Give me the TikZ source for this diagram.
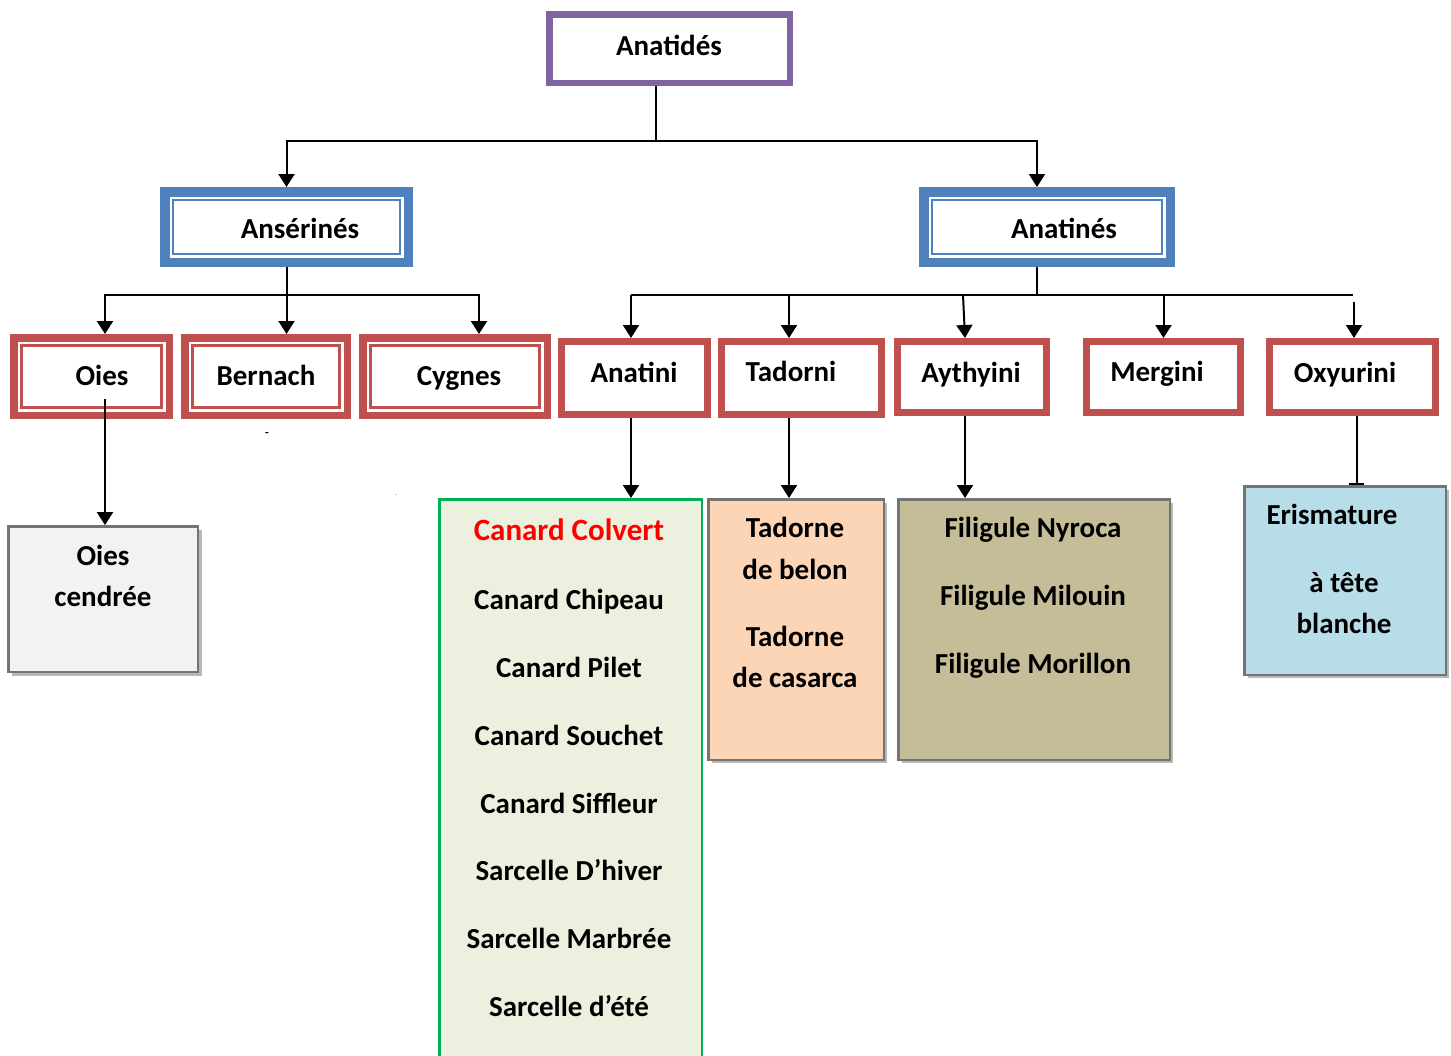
\documentclass[tikz,border=0pt]{standalone}
\usepackage{fontspec}
\setmainfont{Carlito}
\usetikzlibrary{arrows.meta,shadows}
\definecolor{cpurple}{HTML}{8064A2}
\definecolor{cblue}{HTML}{4F81BD}
\definecolor{cred}{HTML}{C0504D}
\definecolor{cgrayb}{HTML}{747474}
\definecolor{cgreenb}{HTML}{00B050}
\definecolor{cgreenf}{HTML}{EBF1DE}
\definecolor{cgrayf}{HTML}{F2F2F2}
\definecolor{corange}{HTML}{FBD5B5}
\definecolor{ckhaki}{HTML}{C4BD97}
\definecolor{ccyan}{HTML}{B7DEE8}
\definecolor{ctextred}{HTML}{FF0000}
\begin{document}
\begin{tikzpicture}[x=1pt,y=-1pt,
  lbl/.style={font=\bfseries\fontsize{29}{35}\selectfont, inner sep=0pt, anchor=base},
  purplebox/.style={draw=cpurple, line width=6.5pt, fill=white, inner sep=0pt},
  bluebox/.style={draw=cblue, line width=9.5pt, fill=white, inner sep=0pt},
  bluethin/.style={draw=cblue, line width=2.5pt},
  redbox/.style={draw=cred, line width=7.5pt, fill=white, inner sep=0pt},
  redthin/.style={draw=cred, line width=2.5pt},
  redsingle/.style={draw=cred, line width=7pt, fill=white, inner sep=0pt},
  graybox/.style={draw=cgrayb, line width=2.5pt, inner sep=0pt,
     drop shadow={shadow xshift=3.5pt, shadow yshift=-3.5pt, fill=black!28, opacity=1}},
  greenbox/.style={draw=cgreenb, line width=2.5pt, fill=cgreenf, inner sep=0pt},
  conn/.style={draw=black, line width=2pt},
  arr/.style={conn, -{Triangle[width=16pt,length=13pt]}},
  barr/.style={conn, -{Bar[width=15pt,line width=2pt]}}
]
\useasboundingbox (0,0) rectangle (1451,1055);

% ---------- level 1
\node[purplebox, minimum width=240.5pt, minimum height=68.5pt] (anatides) at (669.5,48.5) {};
\node[lbl] (t-anatides) at (669,55) {Anatidés};

% ---------- level 2
\node[bluebox, minimum width=243.5pt, minimum height=70.5pt] (anserines) at (286.5,227) {};
\draw[bluethin] ([shift={(13,13)}]anserines.north west) rectangle ([shift={(-13,-13)}]anserines.south east);
\node[lbl] (t-anserines) at (300,238) {Ansérinés};

\node[bluebox, minimum width=246.5pt, minimum height=70.5pt] (anatines) at (1047,227) {};
\draw[bluethin] ([shift={(13,13)}]anatines.north west) rectangle ([shift={(-13,-13)}]anatines.south east);
\node[lbl] (t-anatines) at (1064,238) {Anatinés};

% ---------- level 3 (Ansérinés)
\node[redbox, minimum width=155.5pt, minimum height=77.5pt] (oies) at (91.5,376.5) {};
\draw[redthin] ([shift={(11.3,11.3)}]oies.north west) rectangle ([shift={(-11.3,-11.3)}]oies.south east);
\node[lbl] (t-oies) at (102,385) {Oies};

\node[redbox, minimum width=162.5pt, minimum height=77.5pt] (bernach) at (266,376.5) {};
\draw[redthin] ([shift={(11.3,11.3)}]bernach.north west) rectangle ([shift={(-11.3,-11.3)}]bernach.south east);
\node[lbl] (t-bernach) at (266,385) {Bernach};

\node[redbox, minimum width=184.5pt, minimum height=77.5pt] (cygnes) at (455,376.5) {};
\draw[redthin] ([shift={(11.3,11.3)}]cygnes.north west) rectangle ([shift={(-11.3,-11.3)}]cygnes.south east);
\node[lbl] (t-cygnes) at (459,385) {Cygnes};

% ---------- level 3 (Anatinés)
\node[redsingle, minimum width=146pt, minimum height=73pt] (anatini) at (634.5,378) {};
\node[lbl] (t-anatini) at (634,382) {Anatini};
\node[redsingle, minimum width=160pt, minimum height=73pt] (tadorni) at (801.5,378) {};
\node[lbl] (t-tadorni) at (791,381) {Tadorni};
\node[redsingle, minimum width=149pt, minimum height=71pt] (aythyini) at (972,377) {};
\node[lbl] (t-aythyini) at (971,382) {Aythyini};
\node[redsingle, minimum width=154pt, minimum height=71pt] (mergini) at (1163.5,377) {};
\node[lbl] (t-mergini) at (1157,381) {Mergini};
\node[redsingle, minimum width=166pt, minimum height=71pt] (oxyurini) at (1352.5,377) {};
\node[lbl] (t-oxyurini) at (1345,382) {Oxyurini};

% stray marks
\node[font=\bfseries\fontsize{12}{14}\selectfont, inner sep=0pt] (dash) at (267,434) {-};
\node[font=\fontsize{6}{7}\selectfont, inner sep=0pt] (dot) at (396,495) {.};

% ---------- level 4
\node[graybox, fill=cgrayf, minimum width=189.5pt, minimum height=145.7pt] (oc) at (103.25,599.2) {};
\node[lbl] (t-oc1) at (103,565) {Oies};
\node[lbl] (t-oc2) at (103,606) {cendrée};

\node[greenbox, minimum width=262.5pt, minimum height=575pt] (green) at (570.5,786.75) {};
\node[lbl, text=ctextred, font=\bfseries\fontsize{31}{35}\selectfont] (g1) at (569,540) {Canard Colvert};
\node[lbl] (g2) at (569,609) {Canard Chipeau};
\node[lbl] (g3) at (569,677) {Canard Pilet};
\node[lbl] (g4) at (569,745) {Canard Souchet};
\node[lbl] (g5) at (569,813) {Canard Siffleur};
\node[lbl] (g6) at (569,880) {Sarcelle D’hiver};
\node[lbl] (g7) at (569,948) {Sarcelle Marbrée};
\node[lbl] (g8) at (569,1016) {Sarcelle d’été};

\node[graybox, fill=corange, minimum width=175.5pt, minimum height=260.5pt] (tad) at (796,629.5) {};
\node[lbl] (ta1) at (795,537) {Tadorne};
\node[lbl] (ta2) at (795,579) {de belon};
\node[lbl] (ta3) at (795,646) {Tadorne};
\node[lbl] (ta4) at (795,687) {de casarca};

\node[graybox, fill=ckhaki, minimum width=271.5pt, minimum height=260.5pt] (fil) at (1034,629.5) {};
\node[lbl] (f1) at (1033,537) {Filigule Nyroca};
\node[lbl] (f2) at (1033,605) {Filigule Milouin};
\node[lbl] (f3) at (1033,673) {Filigule Morillon};

\node[graybox, fill=ccyan, minimum width=201.5pt, minimum height=188.5pt] (eris) at (1345,580.5) {};
\node[lbl] (e1) at (1332,524) {Erismature};
\node[lbl] (e2) at (1344,592) {à tête};
\node[lbl] (e3) at (1344,633) {blanche};

% ---------- connectors
\coordinate (j0) at (655.5,141);
\draw[conn] (anatides.south -| j0) -- (j0);
\draw[arr] (j0) -| (anserines.north);
\draw[arr] (j0) -| ([xshift=-10pt]anatines.north);

\coordinate (j1) at (286.5,295);
\draw[conn] (anserines.south) -- (j1);
\draw[arr] (j1) -| ([xshift=13.5pt]oies.north);
\draw[arr] (j1) -- (bernach.north -| j1);
\draw[arr] (j1) -| ([xshift=24pt]cygnes.north);

\coordinate (j2) at (1037,295);
\coordinate (hL) at (631,295);
\coordinate (hR) at (1353,295);
\coordinate (hA) at (963,295);
\coordinate (hO) at (1354,302);
\draw[conn] (anatines.south -| j2) -- (j2);
\draw[conn] (hL) -- (hR);
\draw[arr] (hL) -- (anatini.north -| hL);
\draw[arr] (j2 -| tadorni.north) ++(-12.5,0) coordinate (hT) -- (tadorni.north -| hT);
\draw[arr] (hA) -- ([xshift=-7pt]aythyini.north);
\draw[arr] (mergini.north |- j2) -- (mergini.north);
\draw[arr] (hO) -- (oxyurini.north -| hO);

\coordinate (v0) at (105,399);
\draw[arr] (v0) -- (oc.north -| v0);
\coordinate (v1) at (631,0);
\draw[arr] (anatini.south -| v1) -- (green.north -| v1);
\coordinate (v2) at (789,0);
\draw[arr] (tadorni.south -| v2) -- (tad.north -| v2);
\coordinate (v3) at (965,0);
\draw[arr] (aythyini.south -| v3) -- (fil.north -| v3);
\coordinate (v4) at (1356.5,0);
\draw[barr] (oxyurini.south -| v4) -- (eris.north -| v4);
\end{tikzpicture}
\end{document}
